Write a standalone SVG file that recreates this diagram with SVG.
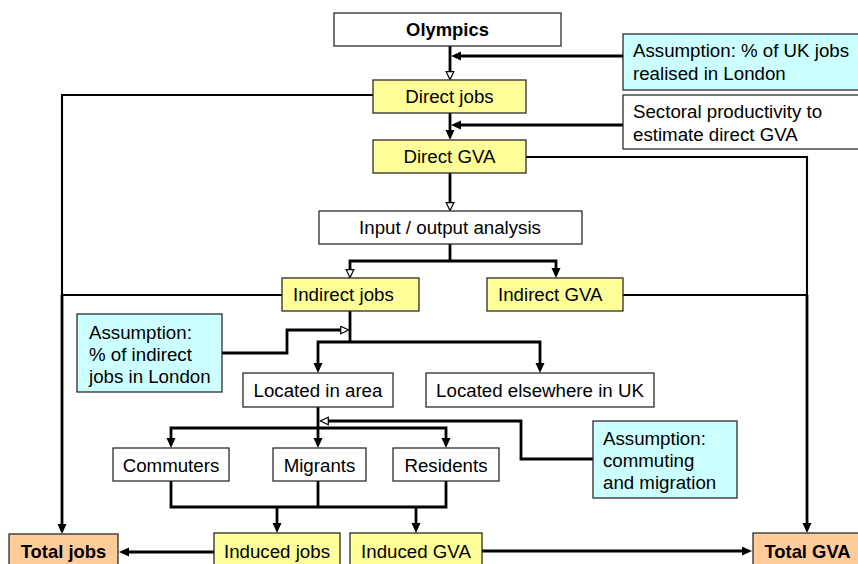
<svg xmlns="http://www.w3.org/2000/svg" width="858" height="564" viewBox="0 0 858 564">
  <style>
    .box { stroke: #2b2b2b; stroke-width: 1.3; }
    .plain { fill: #ffffff; }
    .yellow { fill: #ffff99; }
    .cyan { fill: #ccffff; }
    .orange { fill: #ffcc99; }
    text { font-family: "Liberation Sans", Arial, sans-serif; font-size: 18.7px; fill: #000; }
    .c { text-anchor: middle; }
    .b { font-weight: bold; font-size: 18.4px; }
    .conn path { fill: none; stroke: #000; stroke-width: 2.8; stroke-linejoin: miter; }
    .conn path.thin { stroke-width: 2.1; }
    .conn path.arr { marker-end: url(#solid); }
    .conn path.open { marker-end: url(#hollow); }
  </style>
  <defs>
    <marker id="solid" markerUnits="userSpaceOnUse" markerWidth="11" markerHeight="10" refX="4" refY="4.5" orient="auto">
      <path d="M0,0 L10,4.5 L0,9 z" fill="#000"/>
    </marker>
    <marker id="hollow" markerUnits="userSpaceOnUse" markerWidth="11" markerHeight="10" refX="3" refY="4.5" orient="auto">
      <path d="M0.7,0.7 L8.6,4.5 L0.7,8.3 z" fill="#fff" stroke="#000" stroke-width="1.2"/>
    </marker>
  </defs>

  <!-- connectors -->
  <g id="connectors" class="conn">
    <!-- Olympics to direct jobs -->
    <path class="open" d="M450,46 V74"/>
    <path class="arr" d="M623,56 H457"/>
    <!-- direct jobs to direct GVA -->
    <path class="arr" d="M450,113 V134"/>
    <path class="arr" d="M623,125 H457"/>
    <!-- direct GVA to input/output -->
    <path class="open" d="M450,173 V205"/>
    <!-- input/output split -->
    <path d="M450,244 V261"/>
    <path class="open" d="M450,261 H350 V272"/>
    <path class="arr" d="M450,261 H556 V272"/>
    <!-- jobs totals (left trunk) -->
    <path class="thin" d="M373,95 H62 V296"/>
    <path class="thin" d="M282,295 H62"/>
    <path class="arr" d="M62,295 V528"/>
    <!-- GVA totals (right trunk) -->
    <path class="thin" d="M526,157 H807 V296"/>
    <path class="thin" d="M623,295 H807"/>
    <path class="arr" d="M807,295 V527"/>
    <!-- indirect jobs split by location -->
    <path d="M350,311 V342"/>
    <path class="arr" d="M350,342 H318 V367"/>
    <path class="arr" d="M350,342 H540 V367"/>
    <path class="open" d="M222,353 H287 V330 H343"/>
    <!-- located in area to worker groups -->
    <path class="arr" d="M318,407 V442"/>
    <path class="arr" d="M318,428 H171 V442"/>
    <path class="arr" d="M318,428 H446 V442"/>
    <path class="open" d="M593,459 H521 V421 H326"/>
    <!-- worker groups to induced effects -->
    <path d="M171,481 V507 H446 V481"/>
    <path d="M318,481 V507"/>
    <path class="arr" d="M277,507 V527"/>
    <path class="arr" d="M416,507 V527"/>
    <!-- induced effects to totals -->
    <path class="arr" d="M214,552 H125"/>
    <path class="arr" d="M482,551 H746"/>
  </g>

  <!-- nodes -->
  <g id="olympics">
    <rect class="box plain" x="334" y="13" width="227" height="33"/>
    <text class="c b" x="447.5" y="36">Olympics</text>
  </g>
  <g id="assumption-uk-jobs">
    <rect class="box cyan" x="623" y="34" width="240" height="56"/>
    <text x="633" y="57">Assumption: % of UK jobs</text>
    <text x="633" y="79.5">realised in London</text>
  </g>
  <g id="sectoral-productivity">
    <rect class="box plain" x="623" y="95" width="240" height="54"/>
    <text x="633" y="118">Sectoral productivity to</text>
    <text x="633" y="140.5">estimate direct GVA</text>
  </g>
  <g id="direct-jobs">
    <rect class="box yellow" x="373" y="80" width="153" height="33"/>
    <text class="c" x="449.5" y="103">Direct jobs</text>
  </g>
  <g id="direct-gva">
    <rect class="box yellow" x="373" y="140" width="153" height="33"/>
    <text class="c" x="449.5" y="163">Direct GVA</text>
  </g>
  <g id="input-output">
    <rect class="box plain" x="319" y="211" width="263" height="33"/>
    <text class="c" x="450" y="234">Input / output analysis</text>
  </g>
  <g id="indirect-jobs">
    <rect class="box yellow" x="282" y="278" width="137" height="33"/>
    <text x="293" y="301">Indirect jobs</text>
  </g>
  <g id="indirect-gva">
    <rect class="box yellow" x="487" y="278" width="136" height="33"/>
    <text x="498" y="301">Indirect GVA</text>
  </g>
  <g id="assumption-indirect">
    <rect class="box cyan" x="77" y="314" width="145" height="78"/>
    <text x="89" y="338.5">Assumption:</text>
    <text x="89" y="360.5">% of indirect</text>
    <text x="89" y="382.5">jobs in London</text>
  </g>
  <g id="located-area">
    <rect class="box plain" x="243" y="373" width="150" height="34"/>
    <text class="c" x="318" y="397">Located in area</text>
  </g>
  <g id="located-elsewhere">
    <rect class="box plain" x="426" y="373" width="228" height="34"/>
    <text class="c" x="540" y="397">Located elsewhere in UK</text>
  </g>
  <g id="assumption-commuting">
    <rect class="box cyan" x="593" y="421" width="144" height="77"/>
    <text x="603" y="445">Assumption:</text>
    <text x="603" y="467">commuting</text>
    <text x="603" y="489">and migration</text>
  </g>
  <g id="commuters">
    <rect class="box plain" x="113" y="448" width="116" height="33"/>
    <text class="c" x="171" y="471.5">Commuters</text>
  </g>
  <g id="migrants">
    <rect class="box plain" x="273" y="448" width="93" height="33"/>
    <text class="c" x="319.5" y="471.5">Migrants</text>
  </g>
  <g id="residents">
    <rect class="box plain" x="393" y="448" width="106" height="33"/>
    <text class="c" x="446" y="471.5">Residents</text>
  </g>
  <g id="induced-jobs">
    <rect class="box yellow" x="214" y="533" width="126" height="36"/>
    <text class="c" x="277" y="557.5">Induced jobs</text>
  </g>
  <g id="induced-gva">
    <rect class="box yellow" x="350" y="533" width="132" height="36"/>
    <text class="c" x="416" y="557.5">Induced GVA</text>
  </g>
  <g id="total-jobs">
    <rect class="box orange" x="9" y="534" width="109" height="36"/>
    <text class="c b" x="63.5" y="558">Total jobs</text>
  </g>
  <g id="total-gva">
    <rect class="box orange" x="753" y="533" width="110" height="36"/>
    <text class="c b" x="807.5" y="558">Total GVA</text>
  </g>
</svg>
